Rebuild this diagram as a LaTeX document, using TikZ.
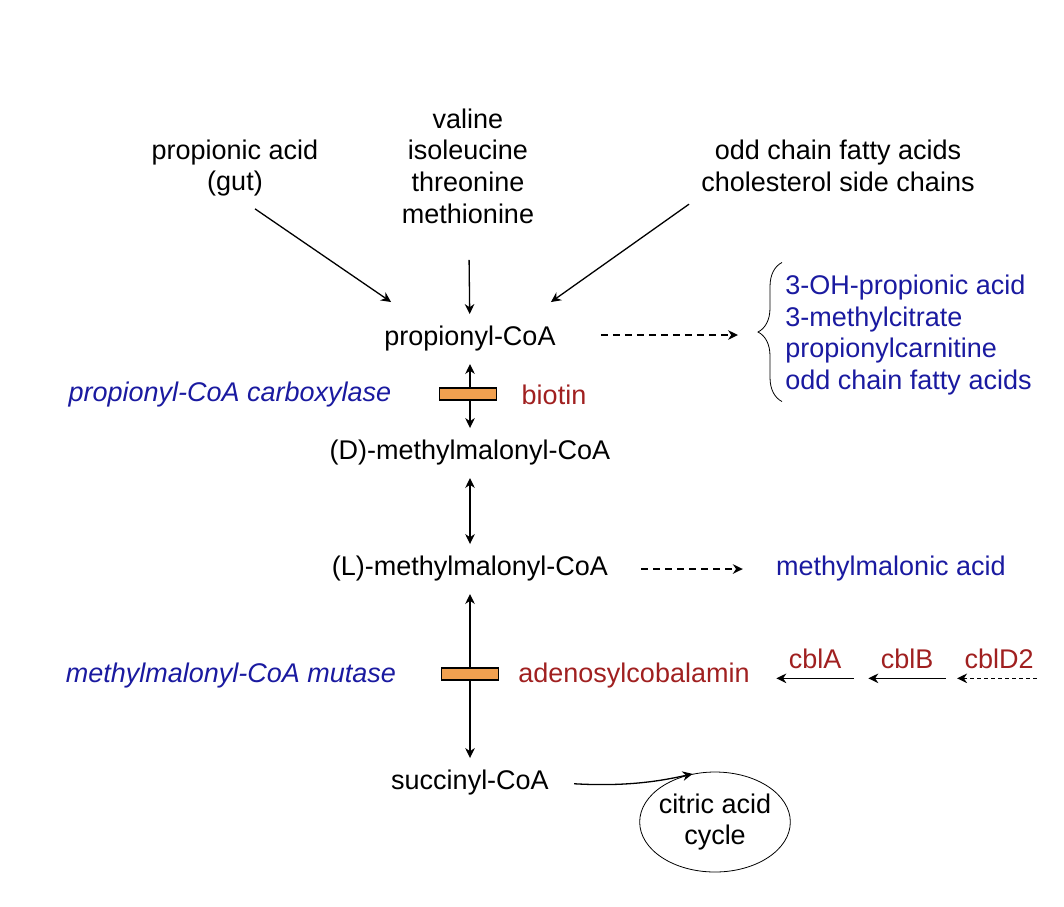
\documentclass[tikz,border=0pt]{standalone}
\usepackage{fontspec}
\setmainfont{Liberation Sans}
\usepackage{tikz}
\usetikzlibrary{arrows.meta}
\usetikzlibrary{shapes.geometric}
\usetikzlibrary{decorations.pathreplacing}
\definecolor{pwblue}{RGB}{26,26,160}
\definecolor{pwred}{RGB}{160,32,32}
\definecolor{barorange}{RGB}{240,160,80}

\begin{document}
\begin{tikzpicture}[x=0.5pt,y=-0.5pt,
        every node/.style={font=\fontsize{13.5}{15.85}\selectfont,inner sep=6pt},
        met/.style={align=center},
        enz/.style={text=pwblue,font=\fontsize{13.5}{15.85}\selectfont\itshape},
        cof/.style={text=pwred},
        alt/.style={text=pwblue},
        bar/.style={draw,fill=barorange,minimum width=28.5pt,minimum height=6pt,inner sep=0pt,line width=0.6pt},
        arr/.style={-{Stealth[length=5pt,width=4.8pt]},line width=0.65pt},
        dbl/.style={{Stealth[length=5pt,width=4.8pt]}-{Stealth[length=5pt,width=4.8pt]},line width=0.65pt},
        dsh/.style={arr,dash pattern=on 3.5pt off 2.5pt}]
            \useasboundingbox (0,0) rectangle (1064,906);

            % 基質を置く
            \node[met] (gut) at (235,168) {propionic acid\\(gut)};
            \node[met] (aa) at (468,166) {valine\\isoleucine\\threonine\\methionine};
            \node[met] (odd) at (838,166) {odd chain fatty acids\\cholesterol side chains};

            % 主経路
            \node (pcoa) at (470,339) {propionyl-CoA};
            \node (dcoa) at (470,453) {(D)-methylmalonyl-CoA};
            \node (lcoa) at (470,569) {(L)-methylmalonyl-CoA};
            \node (scoa) at (470,783) {succinyl-CoA};
            \node[draw,ellipse,align=center,inner sep=0pt,inner xsep=-1.5pt,minimum height=50pt] (tca) at (715,822) {citric acid\\cycle};

            % 酵素と補酵素
            \node[enz] (pcc) at (230,395) {propionyl-CoA carboxylase};
            \node[cof] (bio) at (554,395) {biotin};
            \node[enz] (mcm) at (231,676) {methylmalonyl-CoA mutase};
            \node[cof] (adocbl) at (634,676) {adenosylcobalamin};
            \node[cof] (cblA) at (815,659) {cblA};
            \node[cof] (cblB) at (907,659) {cblB};
            \node[cof] (cblD) at (999,659) {cblD2};

            % 副産物
            \node[alt,anchor=west,align=left] (prods) at (773,335) {3-OH-propionic acid\\3-methylcitrate\\propionylcarnitine\\odd chain fatty acids};
            \node[alt] (mma) at (891,569) {methylmalonic acid};
            \coordinate (brtip) at ([xshift=-7.5pt]prods.west);

            % 矢印を描く
            \draw[arr] ([xshift=10pt]gut.south) -- ([shift={(9.5pt,6pt)}]pcoa.north west);
            \draw[arr,shorten <=12pt] (aa) -- (pcoa);
            \draw[arr] (odd.south west) -- ([shift={(-8.5pt,6pt)}]pcoa.north east);
            \draw[dbl] (pcoa) -- (dcoa);
            \draw[dbl] (dcoa) -- (lcoa);
            \draw[dbl] (lcoa) -- (scoa);
            \draw[arr,shorten <=6.5pt] (scoa.east) .. controls (630,787) and (665,780) .. (tca.115);

            \draw[dsh,shorten <=16.5pt,shorten >=10pt] ([yshift=2pt]pcoa.east) -- ([yshift=2pt]pcoa.east -| brtip);
            \draw[decorate,decoration={brace,amplitude=12pt}] ([shift={(4.5pt,3pt)}]prods.south west) -- ([xshift=4.5pt]prods.north west);
            \draw[dsh,shorten <=10.5pt,shorten >=10.5pt] (lcoa) -- (mma);

            \draw[arr] ([yshift=1.5pt]cblA.south east) -- ([yshift=1.5pt]cblA.south west);
            \draw[arr] ([yshift=1.5pt]cblB.south east) -- ([yshift=1.5pt]cblB.south west);
            \draw[arr,dash pattern=on 2pt off 1.5pt,shorten <=4.5pt,shorten >=2.5pt] ([yshift=1.5pt]cblD.south east) -- ([yshift=1.5pt]cblD.south west);

            % 酵素の印
            \node[bar] (bar1) at (468,394) {};
            \node[bar] (bar2) at (470,674) {};

        \end{tikzpicture}
\end{document}
